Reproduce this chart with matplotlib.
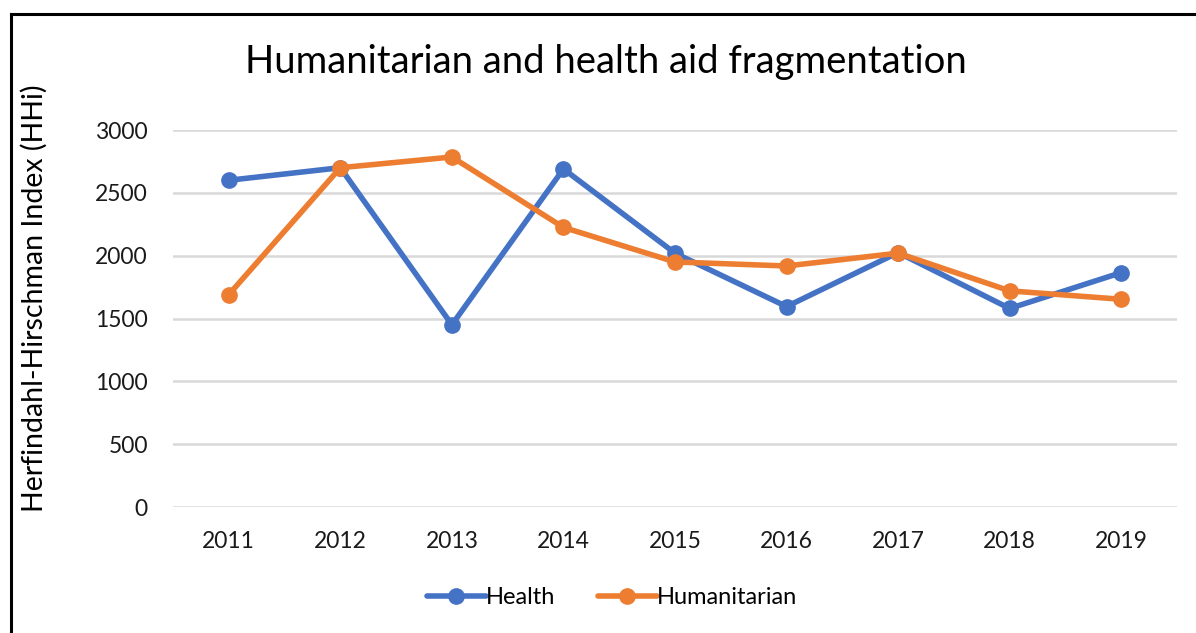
import matplotlib
matplotlib.use('Agg')
import numpy as np
from matplotlib import pyplot as plt
from matplotlib.lines import Line2D

plt.rcParams['font.family'] = ['Lato', 'DejaVu Sans']

# Data
years = ['2011', '2012', '2013', '2014', '2015', '2016', '2017', '2018', '2019']
health = [2600, 2700, 1450, 2690, 2020, 1595, 2025, 1580, 1865]
humanitarian = [1690, 2700, 2785, 2225, 1950, 1918, 2020, 1720, 1653]
yticks = [0, 500, 1000, 1500, 2000, 2500, 3000]

blue = '#4472C4'
orange = '#ED7D31'

fig = plt.figure(figsize=(11.96, 6.33), dpi=100)
ax = fig.add_axes([173 / 1196, 1 - 507 / 633, 1004 / 1196, 377 / 633])

x = np.arange(len(years))
ax.plot(x, health, color=blue, lw=4, marker='o', ms=11, label='Health',
        solid_capstyle='round', zorder=3)
ax.plot(x, humanitarian, color=orange, lw=4, marker='o', ms=11,
        label='Humanitarian', solid_capstyle='round', zorder=4)

ax.set_xlim(-0.5, len(years) - 0.5)
ax.set_ylim(0, 3000)
ax.set_xticks(x)
ax.set_xticklabels(years)
ax.set_yticks(yticks)
ax.tick_params(length=0, labelsize=16.5, colors='#1a1a1a')
ax.tick_params(axis='x', pad=17)
ax.tick_params(axis='y', pad=18)
ax.grid(axis='y', color='#D9D9D9', lw=1.8)
ax.set_axisbelow(True)
for s in ax.spines.values():
    s.set_visible(False)

ax.set_ylabel('Herfindahl-Hirschman Index (HHi)', fontsize=20.5)
ax.yaxis.set_label_coords(-0.1245, 0.554)

fig.text(606 / 1196, 1 - 62 / 633, 'Humanitarian and health aid fragmentation',
         ha='center', va='center', fontsize=27.5)

leg = fig.legend(loc='center', bbox_to_anchor=(612 / 1196, 1 - 598 / 633),
                 ncol=2, frameon=False, fontsize=17, handlelength=2.5,
                 handletextpad=0.0, columnspacing=1.8)

# outer frame (only top and left edges visible in the crop)
fig.add_artist(Line2D([11 / 1196, 11 / 1196], [0, 1 - 14 / 633],
                      transform=fig.transFigure, color='black', lw=2.2))
fig.add_artist(Line2D([11 / 1196, 1], [1 - 14 / 633, 1 - 14 / 633],
                      transform=fig.transFigure, color='black', lw=2.2))

fig.savefig('out.png', dpi=100)
